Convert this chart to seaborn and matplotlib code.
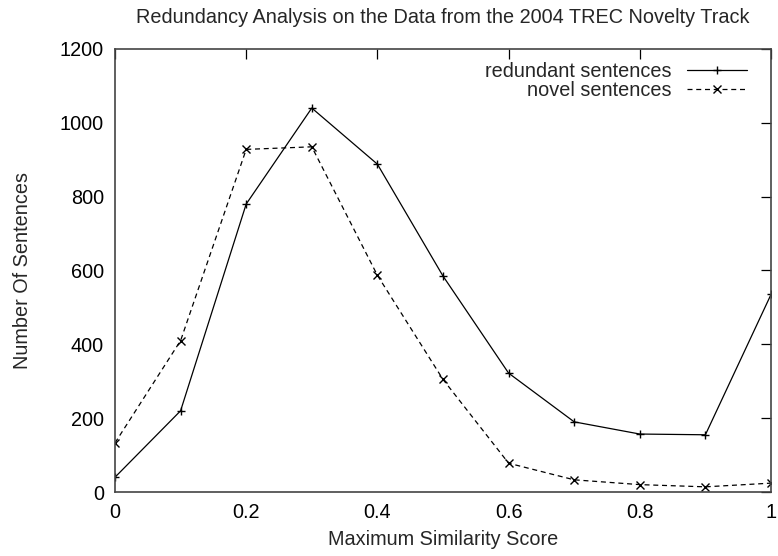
import pandas as pd
import matplotlib
matplotlib.use("Agg")
import matplotlib.pyplot as plt
import seaborn as sns

# values
score = [0.0, 0.1, 0.2, 0.3, 0.4, 0.5, 0.6, 0.7, 0.8, 0.9, 1.0]
redundant = [40, 220, 780, 1040, 888, 585, 322, 190, 157, 155, 535]
novel = [133, 410, 928, 935, 587, 305, 78, 33, 20, 14, 24]
series_names = ["redundant sentences", "novel sentences"]
x_ticks = [0, 0.2, 0.4, 0.6, 0.8, 1]
x_labels = ["0", "0.2", "0.4", "0.6", "0.8", "1"]
y_ticks = [0, 200, 400, 600, 800, 1000, 1200]

df = pd.DataFrame({
    "score": score * 2,
    "count": redundant + novel,
    "series": [series_names[0]] * len(score) + [series_names[1]] * len(score),
})

sns.set_style("white")
plt.rcParams["font.family"] = ["Liberation Sans", "DejaVu Sans"]
fs = 14.3

fig = plt.figure(figsize=(7.78, 5.56), dpi=100)
ax = fig.add_axes([0.1478, 0.1151, 0.991 - 0.1478, 0.9119 - 0.1151])

sns.lineplot(data=df, x="score", y="count", hue="series", style="series",
             palette=["black", "black"], dashes=[(None, None), (4, 3)],
             markers=["+", "x"], markersize=5.5, markeredgewidth=1,
             markeredgecolor="black", linewidth=0.9, legend=False, ax=ax)

ax.set_xlim(0, 1)
ax.set_ylim(0, 1200)
ax.set_xticks(x_ticks)
ax.set_xticklabels(x_labels)
ax.set_yticks(y_ticks)
ax.tick_params(direction="in", length=7, width=0.9, top=True, right=True,
               labelsize=fs, pad=8, colors="black")
for s in ax.spines.values():
    s.set_color("#444444")
    s.set_linewidth(1.2)

ax.set_title("Redundancy Analysis on the Data from the 2004 TREC Novelty Track",
             fontsize=fs, pad=19)
ax.set_xlabel("Maximum Similarity Score", fontsize=fs, labelpad=6)
ax.set_ylabel("Number Of Sentences", fontsize=fs, labelpad=20)

lines = ax.get_lines()[:2]
leg = ax.legend(lines, series_names, loc="upper right",
                bbox_to_anchor=(0.983, 1.0), frameon=False,
                markerfirst=False, handlelength=3.0, fontsize=fs,
                borderaxespad=0.25, labelspacing=0.0, alignment="right")
for t in leg.get_texts():
    t.set_ha("right")

fig.savefig("out.png", dpi=100)
